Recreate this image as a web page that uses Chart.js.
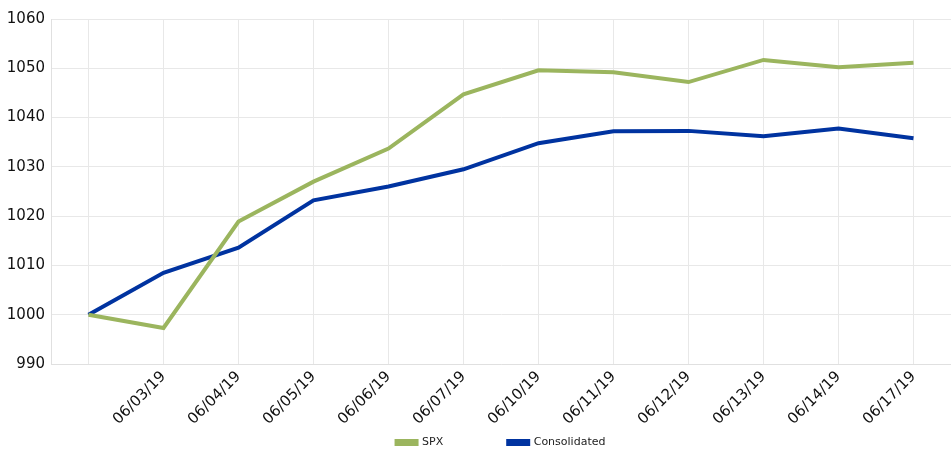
<!DOCTYPE html>
<html>
<head>
<meta charset="utf-8">
<script src="https://cdn.jsdelivr.net/npm/chart.js@4"></script>
<style>
  html, body { margin: 0; padding: 0; background: #fff; }
  #wrap { width: 951px; height: 458px; position: relative; }
</style>
</head>
<body>
<div id="wrap"><canvas id="chart"></canvas></div>
<script>
const dates = ['', '06/03/19', '06/04/19', '06/05/19', '06/06/19', '06/07/19', '06/10/19',
  '06/11/19', '06/12/19', '06/13/19', '06/14/19', '06/17/19']
const spx = [1000, 997.3, 1018.9, 1027.0, 1033.7, 1044.7, 1049.6, 1049.2, 1047.2, 1051.7, 1050.2, 1051.1]
const consolidated = [1000, 1008.5, 1013.6, 1023.2, 1026.0, 1029.5, 1034.8, 1037.2, 1037.3, 1036.2, 1037.8, 1035.8]

const ctx = document.getElementById('chart').getContext('2d')
const font = "'DejaVu Sans', Verdana, sans-serif"

new Chart(ctx, {
  type: 'line',
  data: {
    labels: dates,
    datasets: [
      {
        label: 'SPX',
        data: spx,
        borderColor: '#9bb55e',
        backgroundColor: '#9bb55e',
        borderWidth: 4,
        pointRadius: 0,
        tension: 0
      },
      {
        label: 'Consolidated',
        data: consolidated,
        borderColor: '#0033a0',
        backgroundColor: '#0033a0',
        borderWidth: 4,
        pointRadius: 0,
        tension: 0
      }
    ]
  },
  options: {
    responsive: true,
    maintainAspectRatio: false,
    animation: false,
    layout: { padding: { top: 19, right: 0, left: 0, bottom: 0 } },
    plugins: {
      legend: {
        position: 'bottom',
        fullSize: false,
        labels: {
          boxWidth: 20,
          boxHeight: 3,
          padding: 10,
          color: '#222',
          font: { family: font, size: 11 },
          // widen the gap between the two legend entries
          generateLabels: (chart) => {
            const items = Chart.defaults.plugins.legend.labels.generateLabels(chart)
            items.forEach((it, i) => {
              if (i < items.length - 1) it.text += '\u2003\u2003\u2003\u2003\u2003'
            })
            return items
          }
        }
      },
      tooltip: { enabled: false }
    },
    scales: {
      x: {
        offset: true,
        grid: { color: '#e8e8e8', drawTicks: false, offset: false },
        border: { color: '#e0e0e0' },
        ticks: {
          color: '#111',
          minRotation: 45,
          maxRotation: 45,
          padding: 4,
          autoSkip: false,
          font: { family: font, size: 15 }
        },
        afterFit: (scale) => { scale.height = 63 }
      },
      y: {
        min: 990,
        max: 1060,
        grid: { color: '#e8e8e8', drawTicks: false },
        border: { color: '#e0e0e0' },
        ticks: {
          stepSize: 10,
          color: '#111',
          padding: 6,
          font: { family: font, size: 15 },
          callback: (v) => String(v)
        },
        afterFit: (scale) => { scale.width = 51 }
      }
    }
  }
})
</script>
</body>
</html>
